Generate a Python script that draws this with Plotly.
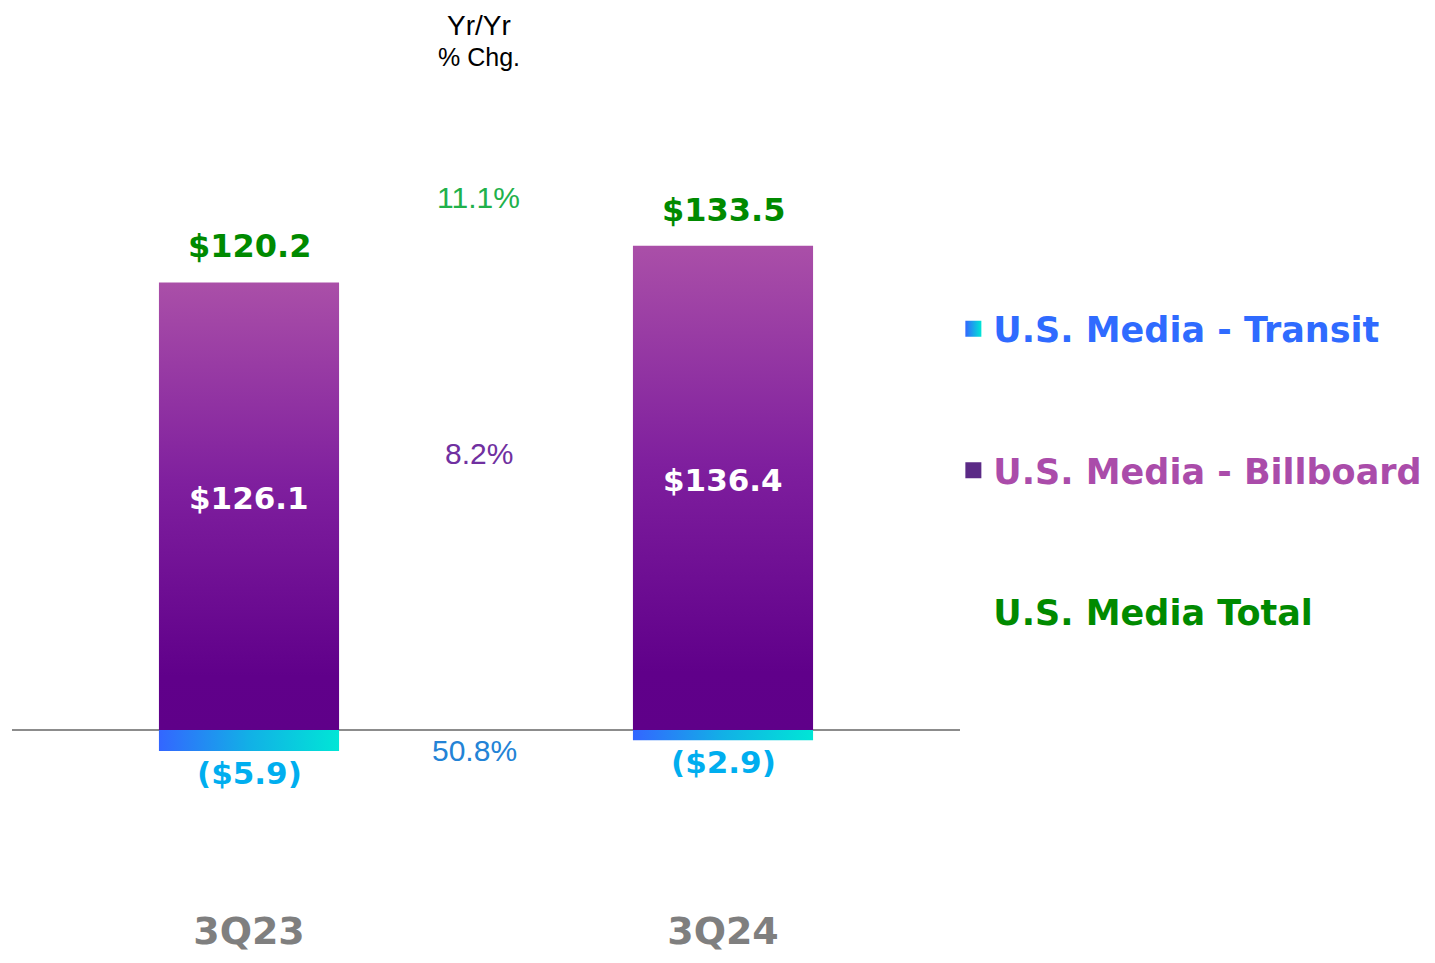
import plotly.graph_objects as go

categories = ["3Q23", "3Q24"]
billboard = [126.1, 136.4]
transit = [-5.9, -2.9]
total = [120.2, 133.5]
billboard_labels = ["$126.1", "$136.4"]
transit_labels = ["($5.9)", "($2.9)"]
total_labels = ["$120.2", "$133.5"]
yoy_labels = ["11.1%", "8.2%", "50.8%"]

BAR_W = 0.38
FONT_B = "DejaVu Sans"
FONT_A = "Liberation Sans, Arial"

fig = go.Figure()

# Billboard bars (vertical gradient)
for i, v in enumerate(billboard):
    fig.add_trace(go.Scatter(
        x=[i - BAR_W / 2, i + BAR_W / 2, i + BAR_W / 2, i - BAR_W / 2, i - BAR_W / 2],
        y=[0, 0, v, v, 0],
        mode="lines", fill="toself", line=dict(width=0),
        fillgradient=dict(type="vertical",
                          colorscale=[[0, "#5F0089"], [0.12, "#60008A"], [0.55, "#7F1F9E"], [1, "#AA4FA8"]]),
        showlegend=False, hoverinfo="skip"))

# Transit bars (horizontal gradient)
for i, v in enumerate(transit):
    fig.add_trace(go.Scatter(
        x=[i - BAR_W / 2, i + BAR_W / 2, i + BAR_W / 2, i - BAR_W / 2, i - BAR_W / 2],
        y=[0, 0, v, v, 0],
        mode="lines", fill="toself", line=dict(width=0),
        fillgradient=dict(type="horizontal",
                          colorscale=[[0, "#3366FF"], [0.5, "#12B0E6"], [1, "#00E6D6"]]),
        showlegend=False, hoverinfo="skip"))

# Legend entries
fig.add_trace(go.Scatter(
    x=[None], y=[None], mode="markers",
    marker=dict(symbol="square", size=19, color="#3366FF",
                gradient=dict(type="horizontal", color="#00E6D6")),
    name='<span style="color:#2F6BFF">U.S. Media - Transit</span>',
    legendgroup="t", legendrank=1))
fig.add_trace(go.Scatter(
    x=[None], y=[None], mode="markers",
    marker=dict(symbol="square", size=19, color="#5B2A86"),
    name='<span style="color:#AA4CAA">U.S. Media - Billboard</span>',
    legendgroup="b", legendrank=2))
fig.add_trace(go.Scatter(
    x=[None], y=[None], mode="markers",
    marker=dict(symbol="square", size=19, color="rgba(0,0,0,0)"),
    name='<span style="color:#008A00">U.S. Media Total</span>',
    legendgroup="tot", legendrank=3))

annotations = []
for i in range(len(categories)):
    annotations.append(dict(x=i, y=billboard[i], xref="x", yref="y", text=total_labels[i],
                            showarrow=False, yanchor="middle", yshift=36,
                            font=dict(family=FONT_B, size=32, color="#008A00", weight="bold")))
    annotations.append(dict(x=i, y=billboard[i] / 2, xref="x", yref="y", text=billboard_labels[i],
                            showarrow=False, yanchor="middle", yshift=8,
                            font=dict(family=FONT_B, size=31, color="white", weight="bold")))
    annotations.append(dict(x=i, y=transit[i], xref="x", yref="y", text=transit_labels[i],
                            showarrow=False, yanchor="middle", yshift=-22,
                            font=dict(family=FONT_B, size=31, color="#00AEEF", weight="bold")))

annotations += [
    dict(x=0.485, y=1, xref="x", yref="paper", yanchor="top", text="Yr/Yr", showarrow=False,
         font=dict(family=FONT_A, size=28, color="black")),
    dict(x=0.485, y=189.6, xref="x", yref="y", text="% Chg.", showarrow=False,
         font=dict(family=FONT_A, size=25, color="black")),
    dict(x=0.485, y=150.0, xref="x", yref="y", text=yoy_labels[0], showarrow=False,
         font=dict(family=FONT_A, size=30, color="#21B14B")),
    dict(x=0.485, y=78.0, xref="x", yref="y", text=yoy_labels[1], showarrow=False,
         font=dict(family=FONT_A, size=30, color="#7030A0")),
    dict(x=0.475, y=-5.9, xref="x", yref="y", text=yoy_labels[2], showarrow=False,
         font=dict(family=FONT_A, size=30, color="#2383D6")),
]

fig.update_layout(
    width=1435, height=963,
    margin=dict(l=4, r=483, t=0, b=66, autoexpand=False),
    paper_bgcolor="white", plot_bgcolor="white",
    annotations=annotations,
    showlegend=True,
    legend=dict(x=0.993, xanchor="left", y=0.675, yanchor="top",
                font=dict(family=FONT_B, size=35, weight="bold"),
                tracegroupgap=93, bgcolor="rgba(0,0,0,0)", itemsizing="trace"),
    xaxis=dict(range=[-0.5, 1.5], tickmode="array", tickvals=list(range(len(categories))),
               ticktext=categories, showgrid=False, zeroline=False, showline=False,
               ticks="", ticklabelstandoff=0, automargin=False,
               tickfont=dict(family=FONT_B, size=38, color="#7F7F7F", weight="bold")),
    yaxis=dict(range=[-49.3, 203.4], showgrid=False, showticklabels=False,
               zeroline=True, zerolinecolor="#8C8C8C", zerolinewidth=1.5,
               showline=False, ticks="", layer="above traces", automargin=False),
)

fig.write_html("out.html")
